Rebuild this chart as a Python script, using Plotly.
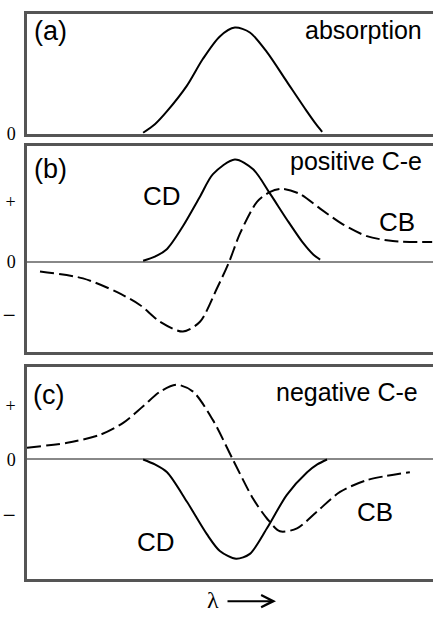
import plotly.graph_objects as go

# wavelength axis in arbitrary units (0..100)
abs_x = [28.6, 31.5, 34.5, 39.4, 43.3, 47.5, 51.2, 54.9, 59.1, 64.0, 68.9, 71.0, 72.7]
abs_y = [0.01, 0.09, 0.213, 0.454, 0.704, 0.917, 1.0, 0.954, 0.769, 0.491, 0.213, 0.10, 0.019]

pos_cd_x = [28.6, 31.5, 34.5, 38.4, 42.6, 45.8, 51.2, 55.7, 59.9, 64.0, 68.0, 70.5, 72.2]
pos_cd_y = [0.01, 0.05, 0.125, 0.346, 0.635, 0.856, 1.0, 0.904, 0.663, 0.413, 0.183, 0.07, 0.02]

pos_cb_x = [3.2, 13.8, 22.2, 27.8, 32.8, 38.4, 42.6, 46.8, 49.8, 52.5, 56.7, 59.9, 62.8, 67.2, 72.2, 77.8, 83.7, 90.1, 99.8]
pos_cb_y = [-0.096, -0.163, -0.298, -0.423, -0.587, -0.683, -0.587, -0.26, 0.0, 0.279, 0.587, 0.683, 0.712, 0.663, 0.519, 0.365, 0.25, 0.202, 0.192]

neg_cd_x = [28.6, 31.5, 34.5, 39.4, 44.3, 47.5, 51.5, 54.9, 59.1, 64.0, 69.0, 71.5, 73.9]
neg_cd_y = [0.0, -0.05, -0.129, -0.426, -0.752, -0.921, -1.0, -0.95, -0.693, -0.356, -0.129, -0.05, 0.0]

neg_cb_x = [0.0, 9.9, 18.0, 23.6, 28.6, 32.8, 36.9, 40.9, 45.8, 50.7, 55.7, 59.1, 62.3, 66.5, 71.4, 77.1, 83.7, 94.3]
neg_cb_y = [0.119, 0.168, 0.248, 0.366, 0.535, 0.683, 0.752, 0.683, 0.396, 0.0, -0.396, -0.594, -0.723, -0.693, -0.525, -0.327, -0.208, -0.129]

sign_ticks = ["+", "0", "<span style='font-size:23px'>\u2212</span>"]

W, H = 433, 619
def py(p):
    return 1 - p / H

left = 27 / W
BORDER = "#555555"
solid = dict(color="black", width=2, shape="spline", smoothing=0.8)
dashed = dict(color="black", width=2, dash="14px,5px", shape="spline", smoothing=0.8)

fig = go.Figure()
fig.add_trace(go.Scatter(x=abs_x, y=abs_y, mode="lines", line=solid, xaxis="x", yaxis="y"))
fig.add_trace(go.Scatter(x=pos_cd_x, y=pos_cd_y, mode="lines", line=solid, xaxis="x2", yaxis="y2"))
fig.add_trace(go.Scatter(x=pos_cb_x, y=pos_cb_y, mode="lines", line=dashed, xaxis="x2", yaxis="y2"))
fig.add_trace(go.Scatter(x=neg_cd_x, y=neg_cd_y, mode="lines", line=solid, xaxis="x3", yaxis="y3"))
fig.add_trace(go.Scatter(x=neg_cb_x, y=neg_cb_y, mode="lines", line=dashed, xaxis="x3", yaxis="y3"))

tickfont = dict(family="Liberation Serif", size=18, color="black")

def xax(anchor):
    return dict(domain=[left, 1.0], range=[0, 100], showgrid=False, zeroline=False,
                showticklabels=False, showline=True, linecolor=BORDER, linewidth=2.5,
                mirror=True, anchor=anchor, ticks="")

def yax(anchor, dom, rng, tv, tt, zl):
    return dict(domain=dom, range=rng, showgrid=False, zeroline=zl, zerolinecolor="#888888",
                zerolinewidth=2, showline=True, linecolor=BORDER, linewidth=2.5, mirror=False,
                anchor=anchor, tickvals=tv, ticktext=tt, tickfont=tickfont, ticks="",
                ticklabelstandoff=5)

fig.update_layout(
    width=W, height=H, margin=dict(l=0, r=0, t=0, b=0),
    paper_bgcolor="white", plot_bgcolor="white", showlegend=False,
    xaxis=xax("y"), xaxis2=xax("y2"), xaxis3=xax("y3"),
    yaxis=yax("x", [py(136), py(14)], [0, 1.13], [0], ["0"], False),
    yaxis2=yax("x2", [py(358), py(148)], [-0.885, 1.135], [0.587, 0, -0.538], sign_ticks, True),
    yaxis3=yax("x3", [py(589), py(373)], [-1.208, 0.931], [0.545, 0, -0.574], sign_ticks, True),
)

lab = dict(family="Liberation Sans, Arial", size=25, color="black")
def txt(x, y, s, xanchor="left", size=25):
    f = dict(lab); f["size"] = size
    fig.add_annotation(x=x / W, y=py(y), xref="paper", yref="paper", text=s, showarrow=False,
                       xanchor=xanchor, yanchor="middle", font=f)

txt(32, 32, "(a)", size=27)
txt(424, 31, "absorption", xanchor="right")
txt(32, 172, "(b)", size=27)
txt(424, 164, "positive C-e", xanchor="right")
txt(141, 199, "CD", size=26)
txt(377, 226, "CB", size=26)
txt(31, 401, "(c)", size=27)
txt(420, 398, "negative C-e", xanchor="right")
txt(135, 551, "CD", size=26)
txt(355, 520, "CB", size=26)

fig.add_annotation(x=213 / W, y=py(610), xref="paper", yref="paper", text="\u03bb", showarrow=False,
                   font=dict(family="Liberation Serif", size=24, color="black"), xanchor="center", yanchor="middle")
fig.add_annotation(x=276 / W, y=py(611), xref="paper", yref="paper", text="", showarrow=True,
                   ax=-50, ay=0, axref="pixel", ayref="pixel", arrowhead=5, arrowsize=1.2,
                   arrowwidth=2, arrowcolor="black")

post = (
    "document.documentElement.style.margin='0';document.documentElement.style.overflow='hidden';"
    "document.body.style.margin='0';document.body.style.padding='0';document.body.style.overflow='hidden';"
)
fig.write_html("out.html", config={"displayModeBar": False}, post_script=post)
